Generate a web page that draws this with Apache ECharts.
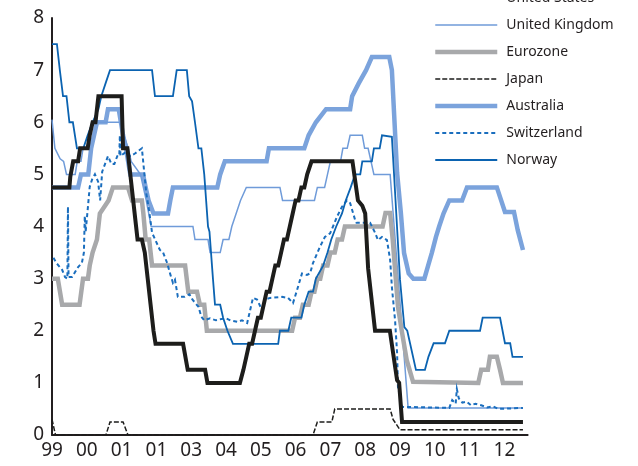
<!DOCTYPE html>
<html>
<head>
<meta charset="utf-8">
<script src="https://cdn.jsdelivr.net/npm/echarts@6/dist/echarts.min.js"></script>
<style>
html,body{margin:0;padding:0;background:#fff;}
#chart{width:638px;height:466px;}
</style>
</head>
<body>
<div id="chart"></div>
<script>
// x values are months since January 1999
const xTickLabels = ['99','00','01','01','03','04','05','06','07','08','09','10','11','12'];
const yTicks = [0,1,2,3,4,5,6,7,8];

const usRate = [[0,4.75],[6,4.75],[6.3,4.95],[7.3,5.25],[9,5.25],[9.7,5.5],[12.3,5.5],[13,5.75],[14,6.0],[15,6.0],[16,6.5],[24,6.5],[24.5,5.5],[26,5.5],[27,5.0],[28,4.5],[29,4.0],[29.5,3.75],[31,3.75],[32,3.5],[33,3.0],[34,2.5],[35,2.0],[35.7,1.75],[45.2,1.75],[46.8,1.25],[52.8,1.25],[53.6,1.0],[64.8,1.0],[66,1.25],[67,1.5],[68,1.75],[69,1.75],[70,2.0],[71,2.25],[72,2.25],[73,2.5],[74,2.75],[75,2.75],[76,3.0],[77,3.25],[78,3.25],[79,3.5],[80,3.75],[81,3.75],[82,4.0],[83,4.25],[84,4.5],[85,4.5],[86,4.75],[87,4.75],[88,5.0],[89.5,5.25],[103.6,5.25],[105.5,4.5],[107,4.4],[108,4.25],[109,3.2],[111.4,2.0],[116.5,2.0],[119,1.05],[119.7,1.0],[120.7,0.25],[162.4,0.25]];

const ukRate = [[0,6.05],[1,5.5],[2.8,5.3],[4,5.25],[5,5.0],[8,5.0],[8.7,5.25],[10,5.25],[10.7,5.5],[12,5.5],[12.7,5.75],[13.7,6.0],[23.4,6.0],[24.5,5.8],[26.3,5.5],[27.3,5.25],[30.5,5.0],[31.5,4.75],[32.5,4.5],[34.2,4.0],[48.6,4.0],[49.3,3.75],[53.8,3.75],[54.5,3.5],[58,3.5],[59,3.75],[61,3.75],[62,4.0],[63.5,4.25],[65,4.5],[67,4.75],[78.6,4.75],[79.5,4.5],[90.5,4.5],[91.5,4.75],[94,4.75],[95,5.0],[96,5.25],[99.5,5.25],[100.3,5.5],[101.8,5.5],[102.8,5.75],[107,5.75],[107.8,5.5],[109,5.5],[110,5.25],[111,5.0],[116.6,5.0],[122.8,0.52],[162.4,0.52]];

const ezRate = [[0,3.0],[2,3.0],[3.5,2.5],[9.5,2.5],[10.7,3.0],[12.4,3.0],[13,3.25],[14,3.5],[15.5,3.75],[16.5,4.25],[19.5,4.5],[21,4.75],[26.2,4.75],[27.6,4.5],[31,4.5],[31.5,4.25],[32.3,3.75],[33.5,3.75],[34.5,3.25],[45.9,3.25],[47,2.75],[50,2.75],[51,2.5],[52.5,2.5],[53.4,2.0],[82.8,2.0],[83.8,2.25],[85.5,2.25],[86.5,2.5],[88.5,2.5],[89.5,2.75],[90.5,2.75],[91.5,3.0],[92.5,3.0],[93.5,3.25],[95,3.25],[96,3.5],[97.5,3.5],[98.5,3.75],[100,3.75],[101,4.0],[114,4.0],[115,4.26],[116.6,4.26],[117.5,3.74],[119.3,2.46],[120.6,2.0],[122.3,1.44],[124.5,1.02],[147,1.0],[148,1.25],[150.3,1.25],[151,1.5],[153.4,1.5],[154.5,1.25],[155.5,1.0],[162.4,1.0]];

const jpRate = [[0,0.3],[1.2,0],[18.6,0],[20,0.25],[24.5,0.25],[26.2,0],[90,0],[91.5,0.25],[96.5,0.25],[97.5,0.5],[116.6,0.5],[117.6,0.3],[120,0.1],[162.4,0.1]];

const auRate = [[0,4.75],[9,4.75],[10,5.0],[12.5,5.0],[13.5,5.5],[14.5,5.75],[15.5,6.0],[18.5,6.0],[19.3,6.25],[23,6.25],[24.5,5.75],[25.5,5.5],[27,5.0],[31.4,5.0],[32.3,4.75],[33.3,4.5],[35,4.25],[40,4.25],[40.8,4.5],[41.7,4.75],[57,4.75],[58,5.0],[59.6,5.25],[74,5.25],[74.8,5.5],[87,5.5],[88.5,5.75],[91,6.0],[94.5,6.25],[102.8,6.25],[103.5,6.5],[105.8,6.75],[108.3,7.0],[110.3,7.25],[116.3,7.25],[117.2,7.0],[119,5.03],[120.3,4.26],[121.4,3.49],[123,3.1],[124.6,3.0],[128.4,3.0],[129.7,3.25],[131,3.5],[132.4,3.8],[133.5,4.0],[135,4.25],[137,4.5],[141.4,4.5],[143.1,4.75],[153.4,4.75],[156.2,4.28],[159.3,4.28],[160.6,3.93],[162.4,3.55]];

const chRate = [[0.5,3.4],[1.5,3.3],[3.5,3.17],[4.5,3.03],[5.3,3.0],[5.5,4.38],[5.7,3.03],[6.9,3.03],[8,3.13],[9,3.22],[10.3,3.3],[11,3.5],[11.3,4.2],[11.6,3.9],[12.4,4.38],[13,4.76],[13.8,4.9],[14.8,5.0],[15.9,4.86],[16.6,4.5],[17.3,5.05],[18.3,5.2],[19.3,5.35],[20.5,5.2],[21.5,5.2],[22.5,5.35],[23.2,5.35],[23.4,5.75],[23.6,5.35],[25.5,5.43],[27,5.35],[28.6,5.4],[31,5.5],[32.5,4.64],[33.5,4.3],[34.5,3.88],[37.2,3.55],[38.3,3.5],[39.7,3.3],[40.7,3.1],[41.7,2.92],[42.4,2.98],[43.4,2.65],[45.7,2.65],[47.4,2.7],[48.4,2.6],[50.5,2.46],[51.5,2.27],[52.5,2.2],[54.5,2.24],[56.5,2.2],[58,2.22],[60,2.24],[61.5,2.2],[64,2.17],[65.5,2.2],[67.3,2.15],[69.3,2.63],[70.7,2.6],[72.4,2.4],[73.4,2.6],[75.2,2.63],[79.3,2.65],[81.4,2.63],[83.1,2.53],[84.5,2.78],[86.2,3.1],[87.9,3.07],[89,3.1],[90,3.3],[92.4,3.61],[94.1,3.8],[95.9,3.87],[96.9,4.0],[98.3,4.19],[100,4.38],[101.7,4.5],[102.8,4.45],[104.5,4.13],[105,4.07],[109.7,4.07],[111.4,3.88],[112.4,3.74],[113.8,3.8],[115.5,3.74],[116.6,3.36],[117.2,2.84],[118.3,2.2],[119,1.57],[119.3,0.92],[120.7,0.54],[137,0.52],[138,0.67],[139.2,0.6],[139.6,0.88],[140.3,0.7],[141.5,0.62],[143,0.64],[144.5,0.57],[146,0.6],[148,0.57],[150,0.53],[152,0.55],[154,0.5],[162.4,0.52]];

const noRate = [[0,7.5],[1.7,7.5],[2.7,7.0],[3.8,6.5],[5,6.5],[6,6.0],[7.2,6.0],[8.6,5.5],[10.8,5.5],[12.3,5.75],[14,6.0],[16,6.25],[17,6.5],[18.5,6.75],[20,7.0],[34.5,7.0],[35.5,6.5],[41.7,6.5],[43,7.0],[46.5,7.0],[47.3,6.5],[48.3,6.4],[49.3,6.0],[50.5,5.5],[51.5,5.5],[52.5,5.0],[53.8,4.0],[54.3,3.9],[55.5,3.0],[56.2,2.5],[58,2.5],[59,2.25],[60.5,2.0],[62.4,1.75],[78,1.75],[78.6,2.0],[81.5,2.0],[82.5,2.25],[86,2.25],[87,2.5],[88.5,2.75],[90,2.75],[91,3.0],[93.5,3.25],[95,3.5],[96.3,3.75],[98,4.0],[100,4.25],[101.3,4.5],[103,4.75],[104.5,5.0],[106.3,5.0],[107,5.25],[110.3,5.25],[111,5.5],[113,5.5],[113.8,5.75],[117.2,5.72],[118,4.95],[120,2.98],[121.5,2.07],[122.5,2.0],[123.5,1.75],[125.5,1.25],[128.6,1.25],[129.8,1.5],[131.6,1.76],[135.5,1.76],[137,2.0],[147.6,2.0],[148.5,2.25],[154.5,2.25],[156.2,1.76],[158,1.76],[158.8,1.5],[162.4,1.5]];

const seriesNames = ['United States','United Kingdom','Eurozone','Japan','Australia','Switzerland','Norway'];
const seriesColors = ['#1d1d1b','#6f9bd9','#a8a9ab','#1d1d1b','#7ba3dc','#1a6ebe','#0b63b1'];
const seriesWidths = [4, 1.5, 4.5, 1.5, 4.5, 2, 1.8];
const seriesDashes = ['solid','solid','solid',[5,2],'solid',[4,3],'solid'];
const seriesData = [usRate, ukRate, ezRate, jpRate, auRate, chRate, noRate];
const seriesZ = [9, 3, 4, 5, 2, 6, 7];

const FONT = '"Noto Sans", "DejaVu Sans", sans-serif';

const series = seriesNames.map(function (name, i) {
  return {
    name: name, type: 'line', data: seriesData[i], symbol: 'none', showSymbol: false,
    silent: true, z: seriesZ[i],
    lineStyle: { color: seriesColors[i], width: seriesWidths[i], type: seriesDashes[i], cap: 'butt', join: 'miter' },
    itemStyle: { color: seriesColors[i] }
  };
});

const legendData = seriesNames.map(function (name, i) {
  return {
    name: name,
    lineStyle: { color: seriesColors[i], width: seriesWidths[i], type: seriesDashes[i] },
    itemStyle: { opacity: 0 }
  };
});

const chart = echarts.init(document.getElementById('chart'), null, { renderer: 'canvas' });
chart.setOption({
  animation: false,
  backgroundColor: '#ffffff',
  grid: { left: 52, right: 110.4, top: 18, bottom: 31, containLabel: false },
  legend: {
    data: legendData,
    orient: 'vertical',
    left: 433, top: -9,
    itemWidth: 62, itemHeight: 14, itemGap: 13,
    padding: 0,
    itemStyle: { opacity: 0 },
    textStyle: { fontFamily: FONT, fontSize: 14, color: '#231f20', padding: [0, 0, 0, 4] }
  },
  xAxis: {
    type: 'value', min: 0, max: 164, interval: 12,
    axisLine: { show: true, onZero: false, lineStyle: { color: '#231f20', width: 2 } },
    axisTick: { show: false },
    splitLine: { show: false },
    axisLabel: {
      showMaxLabel: false, margin: 6,
      fontFamily: FONT, fontSize: 19, color: '#231f20',
      formatter: function (v) { const i = Math.round(v / 12); return xTickLabels[i] !== undefined ? xTickLabels[i] : ''; }
    }
  },
  yAxis: {
    type: 'value', min: yTicks[0], max: yTicks[yTicks.length - 1], interval: 1,
    axisLine: { show: true, lineStyle: { color: '#231f20', width: 2 } },
    axisTick: { show: false },
    splitLine: { show: false },
    axisLabel: { margin: 8, fontFamily: FONT, fontSize: 19, color: '#231f20' }
  },
  series: series
});
</script>
</body>
</html>
